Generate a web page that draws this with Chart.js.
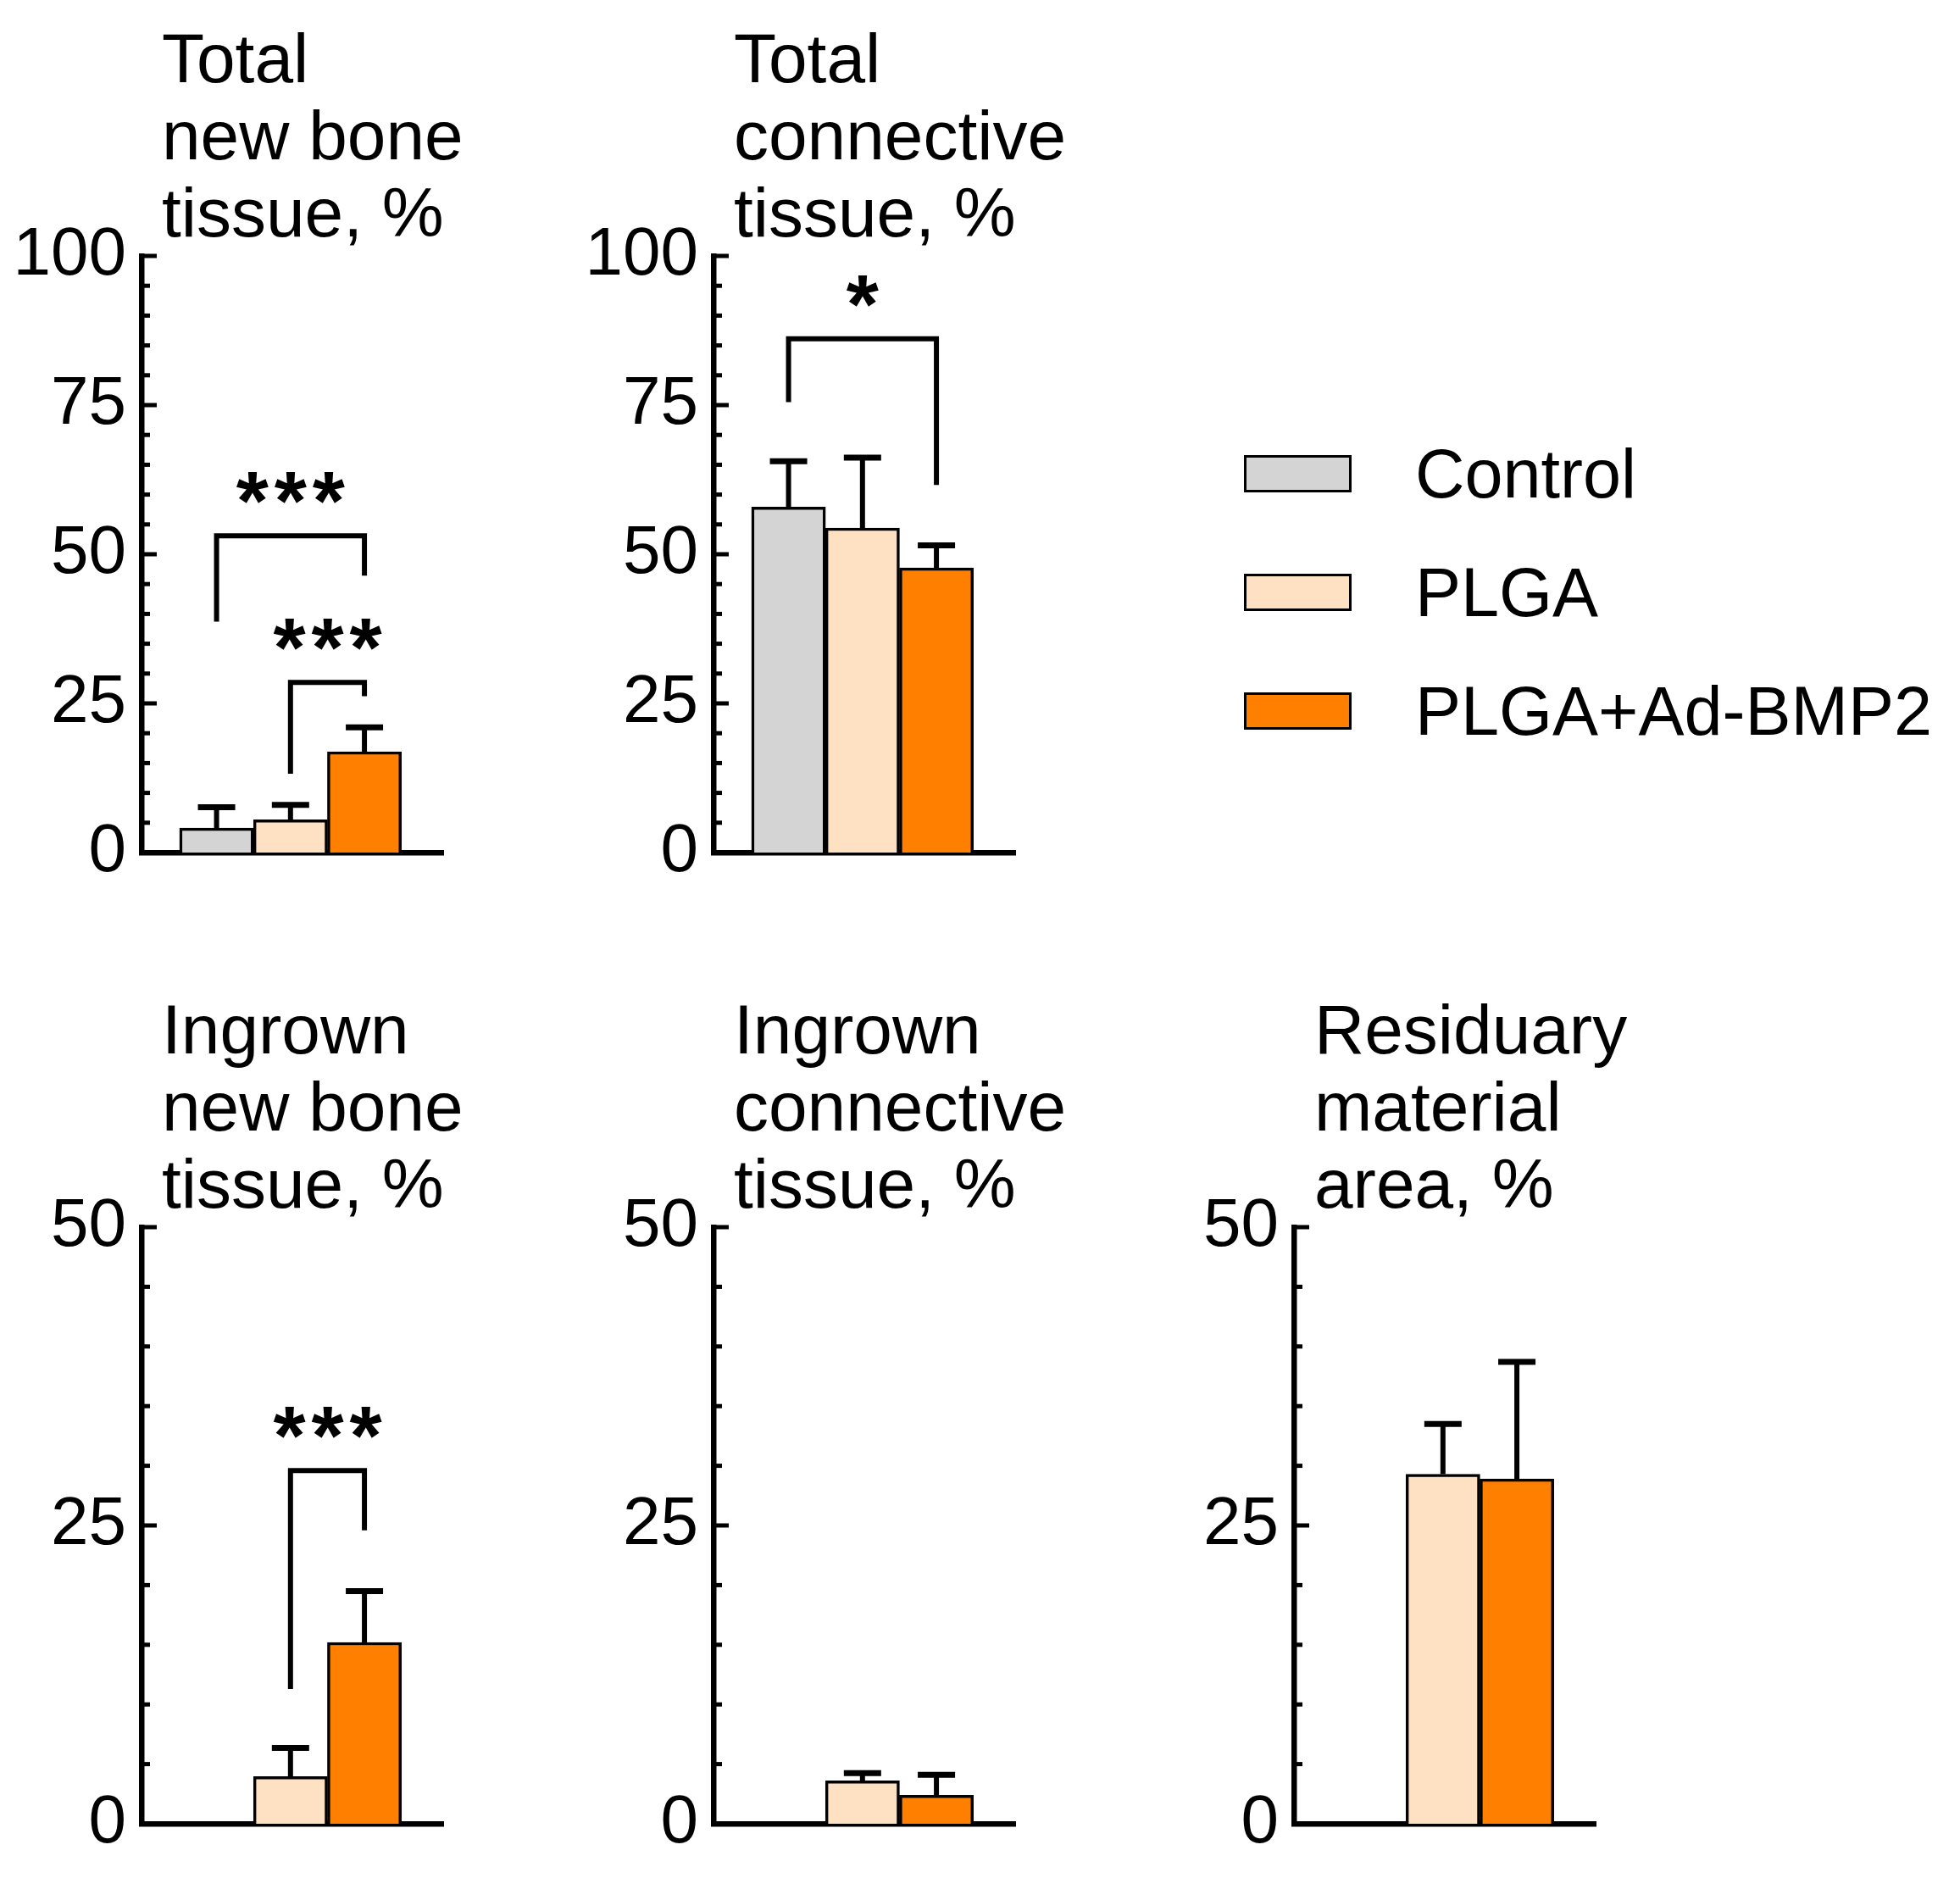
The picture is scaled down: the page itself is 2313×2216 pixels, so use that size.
<!DOCTYPE html>
<html>
<head>
<meta charset="utf-8">
<script src="https://cdn.jsdelivr.net/npm/chart.js@4.4.1/dist/chart.umd.min.js"></script>
<style>
  html, body { margin: 0; padding: 0; background: #fff; overflow: hidden; }
  body { width: 2313px; height: 2216px; position: relative; font-family: "Liberation Sans", Arial, sans-serif; }
  .panel { position: absolute; width: 720px; height: 1072px; }
  .legend-box { position: absolute; left: 1468px; width: 121px; height: 38px; border: 3px solid #000; }
  .legend-text { position: absolute; left: 1670px; height: 100px; line-height: 100px; font-size: 81px; color: #000; white-space: nowrap; }
</style>
</head>
<body>

<div class="panel" id="p1"><canvas id="c1"></canvas></div>
<div class="panel" id="p2"><canvas id="c2"></canvas></div>
<div class="panel" id="p3"><canvas id="c3"></canvas></div>
<div class="panel" id="p4"><canvas id="c4"></canvas></div>
<div class="panel" id="p5"><canvas id="c5"></canvas></div>

<div id="legend"></div>

<script>
// groups and colours
const groups = ["Control", "PLGA", "PLGA+Ad-BMP2"];
const groupColors = ["#d4d4d4", "#fee0c2", "#ff8000"];

// means and upper SD per group (null = group not shown)
const totalBone = [4.1, 5.5, 16.9];
const totalBoneSD = [3.5, 2.5, 4.1];
const totalConn = [57.9, 54.4, 47.7];
const totalConnSD = [7.7, 11.8, 3.8];
const ingrownBone = [null, 3.95, 15.2];
const ingrownBoneSD = [null, 2.4, 4.3];
const ingrownConn = [null, 3.6, 2.4];
const ingrownConnSD = [null, 0.65, 1.7];
const residual = [null, 29.3, 28.9];
const residualSD = [null, 4.2, 9.8];

// y-axis ticks
const ticksTop = [0, 25, 50, 75, 100];
const ticksBottom = [0, 25, 50];

// significance brackets: groups a-b, top, leg ends, label and its height (data units)
const totalBoneSig = [
  { a: 0, b: 2, top: 53.1, endA: 38.7, endB: 46.4, label: "***", labelY: 62.1 },
  { a: 1, b: 2, top: 28.5, endA: 13.2, endB: 26.2, label: "***", labelY: 37.5 },
];
const totalConnSig = [
  { a: 0, b: 2, top: 86.1, endA: 75.5, endB: 61.6, label: "*", labelY: 95.0 },
];
const ingrownBoneSig = [
  { a: 1, b: 2, top: 29.6, endA: 11.3, endB: 24.6, label: "***", labelY: 34.1 },
];

const panels = [
  { id: "c1", box: "p1", axisX: 167, axisTop: 302, title: ["Total", "new bone", "tissue, %"], values: totalBone, sd: totalBoneSD, ticks: ticksTop, sig: totalBoneSig },
  { id: "c2", box: "p2", axisX: 842, axisTop: 302, title: ["Total", "connective", "tissue, %"], values: totalConn, sd: totalConnSD, ticks: ticksTop, sig: totalConnSig },
  { id: "c3", box: "p3", axisX: 167, axisTop: 1448, title: ["Ingrown", "new bone", "tissue, %"], values: ingrownBone, sd: ingrownBoneSD, ticks: ticksBottom, sig: ingrownBoneSig },
  { id: "c4", box: "p4", axisX: 842, axisTop: 1448, title: ["Ingrown", "connective", "tissue, %"], values: ingrownConn, sd: ingrownConnSD, ticks: ticksBottom, sig: [] },
  { id: "c5", box: "p5", axisX: 1527, axisTop: 1448, title: ["Residuary", "material", "area, %"], values: residual, sd: residualSD, ticks: ticksBottom, sig: [] },
];

const FONT = '"Liberation Sans", Arial, sans-serif';
Chart.defaults.color = "#000";
Chart.defaults.font.family = FONT;

function makeDecor(p) {
  return {
    id: "decor_" + p.id,
    afterDraw(chart) {
      const ctx = chart.ctx;
      const xs = chart.scales.x, ys = chart.scales.y;
      const area = chart.chartArea;
      const seg = (x1, y1, x2, y2) => { ctx.beginPath(); ctx.moveTo(x1, y1); ctx.lineTo(x2, y2); ctx.stroke(); };
      ctx.save();
      ctx.strokeStyle = "#000";
      ctx.fillStyle = "#000";

      // inward minor / major ticks
      ctx.lineWidth = 5;
      for (let v = 5; v <= ys.max; v += 5) {
        const py = ys.getPixelForValue(v);
        seg(area.left, py, area.left + (v % 25 === 0 ? 18 : 10), py);
      }

      // upper error bars
      const meta = chart.getDatasetMeta(0);
      p.values.forEach((v, i) => {
        if (v == null) return;
        const bar = meta.data[i];
        const top = ys.getPixelForValue(v + p.sd[i]);
        ctx.lineWidth = 6;
        seg(bar.x, bar.y, bar.x, top);
        ctx.lineWidth = 7;
        seg(bar.x - 22, top, bar.x + 22, top);
      });

      // significance brackets
      ctx.lineWidth = 6;
      ctx.lineJoin = "miter";
      ctx.lineCap = "butt";
      ctx.textAlign = "center";
      ctx.textBaseline = "alphabetic";
      ctx.font = "bold 98px " + FONT;
      p.sig.forEach((s) => {
        const xa = xs.getPixelForValue(s.a), xb = xs.getPixelForValue(s.b);
        const yt = ys.getPixelForValue(s.top);
        ctx.beginPath();
        ctx.moveTo(xa, ys.getPixelForValue(s.endA));
        ctx.lineTo(xa, yt);
        ctx.lineTo(xb, yt);
        ctx.lineTo(xb, ys.getPixelForValue(s.endB));
        ctx.stroke();
        const mid = (xa + xb) / 2, cy = ys.getPixelForValue(s.labelY);
        const n = s.label.length;
        for (let k = 0; k < n; k++) {
          ctx.fillText("*", mid + (k - (n - 1) / 2) * 45, cy + 56);
        }
      });

      // panel title
      ctx.textAlign = "left";
      ctx.font = "82px " + FONT;
      p.title.forEach((line, k) => {
        ctx.fillText(line, area.left + 24, area.top - 302 + 97 + k * 91);
      });
      ctx.restore();
    },
  };
}

panels.forEach((p) => {
  const box = document.getElementById(p.box);
  box.style.left = (p.axisX - 167) + "px";
  box.style.top = (p.axisTop - 302) + "px";
  const yMax = p.ticks[p.ticks.length - 1];

  new Chart(document.getElementById(p.id), {
    type: "bar",
    data: {
      datasets: [{
        data: p.values.map((v, i) => ({ x: i, y: v })),
        backgroundColor: groupColors,
        borderColor: "#000",
        borderWidth: 3.5,
        barPercentage: 1,
        categoryPercentage: 1,
      }],
    },
    options: {
      responsive: true,
      maintainAspectRatio: false,
      animation: false,
      events: [],
      layout: { padding: { left: 0, top: 302, right: 197, bottom: 60 } },
      plugins: { legend: { display: false }, tooltip: { enabled: false }, title: { display: false } },
      scales: {
        x: {
          type: "linear",
          min: -1.015,
          max: 3.065,
          offset: false,
          z: 1,
          grid: { display: false, drawTicks: false },
          ticks: { display: false, stepSize: 10 },
          border: { display: true, width: 6.5, color: "#000" },
          afterFit(s) { s.height = 0; },
        },
        y: {
          min: 0,
          max: yMax,
          grid: { display: false, drawTicks: false },
          border: { display: true, width: 6.5, color: "#000" },
          afterBuildTicks(s) { s.ticks = p.ticks.map((v) => ({ value: v })); },
          ticks: { stepSize: 25, padding: 18, font: { size: 80 }, color: "#000" },
          afterFit(s) { s.width = 167; },
        },
      },
    },
    plugins: [makeDecor(p)],
  });
});

// legend
const legendTops = [537, 677, 817];
const legend = document.getElementById("legend");
groups.forEach((g, i) => {
  const b = document.createElement("div");
  b.className = "legend-box";
  b.style.top = legendTops[i] + "px";
  b.style.background = groupColors[i];
  legend.appendChild(b);
  const t = document.createElement("div");
  t.className = "legend-text";
  t.style.top = (legendTops[i] + 22 - 50) + "px";
  t.textContent = g;
  legend.appendChild(t);
});
</script>
</body>
</html>
